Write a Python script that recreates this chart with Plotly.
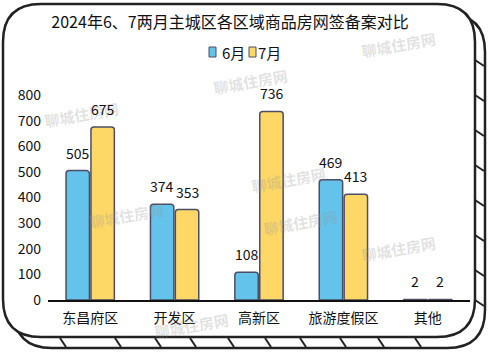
import plotly.graph_objects as go

categories = ["东昌府区", "开发区", "高新区", "旅游度假区", "其他"]
june = [505, 374, 108, 469, 2]
july = [675, 353, 736, 413, 2]
y_ticks = [0, 100, 200, 300, 400, 500, 600, 700, 800]
series_names = ["6月", "7月"]
series_colors = ["#63c3ea", "#fdd866"]

FONT = "Noto Sans CJK SC, Noto Sans, sans-serif"
W_PX, H_PX = 488, 358
L, R_EDGE, TOP, BOT = 48, 470, 95, 300

def px(x):
    return (x - L) / (R_EDGE - L)

def py(y):
    return (BOT - y) / (BOT - TOP)

def rrect(x0, y0, x1, y1, r):
    return (f"M {px(x0+r)},{py(y0)} L {px(x1-r)},{py(y0)} Q {px(x1)},{py(y0)} {px(x1)},{py(y0+r)} "
            f"L {px(x1)},{py(y1-r)} Q {px(x1)},{py(y1)} {px(x1-r)},{py(y1)} "
            f"L {px(x0+r)},{py(y1)} Q {px(x0)},{py(y1)} {px(x0)},{py(y1-r)} "
            f"L {px(x0)},{py(y0+r)} Q {px(x0)},{py(y0)} {px(x0+r)},{py(y0)} Z")

fig = go.Figure()
for name, vals, col in zip(series_names, [june, july], series_colors):
    fig.add_bar(name=name, x=categories, y=vals,
                marker=dict(color=col, line=dict(color="#4d4d66", width=1.5), cornerradius=3),
                showlegend=False)

shapes = []
shapes.append(dict(type="path", xref="paper", yref="paper", path=rrect(14, 14, 485, 348, 38),
                   line=dict(color="#222", width=2.5), fillcolor="white", layer="below"))
shapes.append(dict(type="path", xref="paper", yref="paper", path=rrect(3, 4, 475, 337, 38),
                   line=dict(color="#222", width=2.5), fillcolor="white", layer="below"))
for xb in [60, 115, 155, 190, 228, 265, 300, 340, 378, 415]:
    shapes.append(dict(type="line", xref="paper", yref="paper", x0=px(xb), y0=py(338), x1=px(xb + 6), y1=py(347),
                       line=dict(color="#222", width=2), layer="below"))
for yb in [60, 95, 130, 165, 200, 235, 270, 300]:
    shapes.append(dict(type="line", xref="paper", yref="paper", x0=px(475), y0=py(yb), x1=px(484), y1=py(yb + 6),
                       line=dict(color="#222", width=2), layer="below"))

annotations = []
wm = [(250, 62), (440, 25), (40, 95), (85, 215), (330, 160), (300, 242), (440, 268), (150, 345)]
for (wx, wy) in wm:
    annotations.append(dict(text="<b>聊城住房网</b>", xref="paper", yref="paper", x=px(wx), y=py(wy),
                            showarrow=False, textangle=-10,
                            font=dict(family=FONT, size=15, color="rgba(150,150,150,0.28)")))

for vals, xs in zip([june, july], [-12.5, 12.5]):
    for c, v in zip(categories, vals):
        annotations.append(dict(text=str(v), x=c, y=v, xref="x", yref="y", showarrow=False,
                                xshift=xs, yshift=6, yanchor="bottom",
                                font=dict(family=FONT, size=14, color="#111")))

leg_pos = [(209, 220), (249, 256)]
for (sx, tx), name, col in zip(leg_pos, series_names, series_colors):
    shapes.append(dict(type="rect", xref="paper", yref="paper", x0=px(sx), x1=px(sx + 7),
                       y0=py(57), y1=py(47), fillcolor=col, line=dict(color="#4d4d66", width=1)))
    annotations.append(dict(text=name, xref="paper", yref="paper", x=px(tx), y=py(52),
                            xanchor="left", yanchor="middle", showarrow=False,
                            font=dict(family=FONT, size=15, color="#111")))

fig.update_layout(
    width=W_PX, height=H_PX,
    margin=dict(l=L, r=W_PX - R_EDGE, t=TOP, b=H_PX - BOT),
    paper_bgcolor="white", plot_bgcolor="rgba(0,0,0,0)",
    font=dict(family=FONT, size=14, color="#111"),
    title=dict(text="2024年6、7两月主城区各区域商品房网签备案对比", x=230 / W_PX, xanchor="center",
               y=1 - 22 / H_PX, yanchor="middle", font=dict(size=16, color="#111")),
    showlegend=False,
    barmode="group", bargap=0.41, bargroupgap=0.06,
    shapes=shapes, annotations=annotations,
    xaxis=dict(showline=True, linecolor="#111", linewidth=1.5, ticks="", showgrid=False,
               tickfont=dict(size=14), automargin=False, ticklabelstandoff=4),
    yaxis=dict(range=[0, 800], tickvals=y_ticks, showgrid=False, zeroline=False, showline=False,
               tickfont=dict(size=14), ticklabelstandoff=6, automargin=False),
)

fig.write_html("out.html", config={"displayModeBar": False},
               post_script="document.body.style.margin='0';document.body.style.overflow='hidden';")
